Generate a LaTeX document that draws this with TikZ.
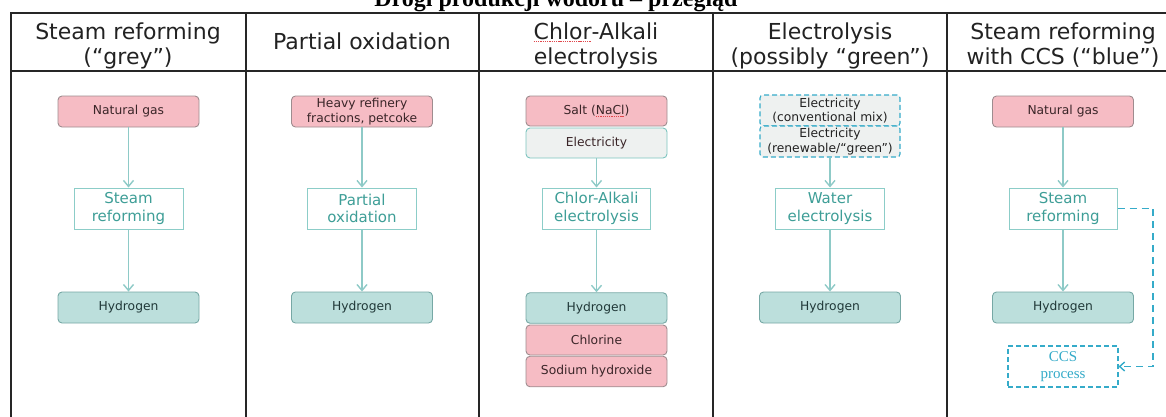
\documentclass[tikz,border=0pt]{standalone}
\usepackage{fontspec}
\setmainfont{DejaVu Sans}
\newfontfamily\titleserif{Liberation Serif}
\usetikzlibrary{arrows.meta}

% palette
\definecolor{rulec}{HTML}{262626}
\definecolor{headtext}{HTML}{222222}
\definecolor{pinkfill}{HTML}{F6BCC4}
\definecolor{pinkdraw}{HTML}{9E8C8F}
\definecolor{pinktext}{HTML}{3A2528}
\definecolor{tealfill}{HTML}{BCDFDC}
\definecolor{tealdraw}{HTML}{76A8A5}
\definecolor{tealtext}{HTML}{203838}
\definecolor{procdraw}{HTML}{8CCDC8}
\definecolor{proctext}{HTML}{3E9E97}
\definecolor{arrowc}{HTML}{8ECAC7}
\definecolor{elecfill}{HTML}{EEF1F0}
\definecolor{elecdraw}{HTML}{7CC4BF}
\definecolor{ccsblue}{HTML}{35ABC9}
\definecolor{spellred}{HTML}{E0474C}

% fonts
\newcommand\colheadfont{\fontsize{22}{24.5}\selectfont}
\newcommand\smallboxfont{\fontsize{12.3}{14.6}\selectfont}
\newcommand\procboxfont{\fontsize{15}{17.6}\selectfont}

% red spelling mark under a word
\newsavebox\spellword
\newcommand\spellmark[1]{\sbox\spellword{#1}%
  \rlap{\textcolor{spellred}{\raisebox{-2.6pt}{\hbox to \wd\spellword{\xleaders\hbox{\rule{1.3pt}{0.8pt}\kern0.9pt}\hfill}}}}%
  \usebox\spellword}

\tikzset{
  colhead/.style={anchor=north, inner sep=0pt, align=center, text=headtext, font=\colheadfont},
  feedbox/.style={rectangle, rounded corners=4pt, draw=pinkdraw, fill=pinkfill, line width=0.9pt,
    minimum width=141pt, minimum height=31pt, inner sep=0pt, align=center, text=pinktext, font=\smallboxfont},
  h2box/.style={feedbox, draw=tealdraw, fill=tealfill, text=tealtext},
  powerbox/.style={feedbox, draw=elecdraw, fill=elecfill, text=pinktext},
  greenpower/.style={feedbox, rounded corners=3pt, draw=ccsblue, fill=elecfill, dash pattern=on 5pt off 3pt,
    line width=1.1pt, minimum width=140pt, text=headtext},
  procbox/.style={rectangle, draw=procdraw, fill=white, line width=1pt, minimum width=109pt,
    minimum height=41pt, inner sep=0pt, align=center, text=proctext, font=\procboxfont},
  ccsbox/.style={procbox, draw=ccsblue, dash pattern=on 5pt off 3pt, line width=1.2pt, minimum width=110pt,
    text=ccsblue, font={\titleserif\fontsize{15}{17.6}\selectfont}},
  flow/.style={draw=arrowc, line width=1.4pt, -{Straight Barb[length=6pt,width=10pt,line width=1.4pt]}},
  ccsflow/.style={draw=ccsblue, line width=1.4pt, dash pattern=on 7pt off 5pt,
    -{Straight Barb[length=5pt,width=9pt,line width=1.4pt]}},
}

\begin{document}
\begin{tikzpicture}[x=1pt, y=-1pt]
\useasboundingbox (0,0) rectangle (1166,416);

% title, its upper part runs off the top edge
\node[anchor=base, inner sep=0pt, font={\titleserif\bfseries\fontsize{24}{28}\selectfont}] (title)
  at (556,6.5) {Drogi produkcji wodoru – przegląd};

% table rules
\draw[rulec, line width=2pt] (11,13.3) -- (1190,13.3);
\draw[rulec, line width=2pt] (11,71) -- (1190,71);
\foreach \xx in {11,245.5,479,713,946.5}
  \draw[rulec, line width=2pt] (\xx,12.3) -- (\xx,430);

% column headings
\node[colhead] (head1) at (128,22.2) {\strut Steam reforming\\\strut(“grey”)};
\node[colhead] (head2) at (362,32.3) {\strut Partial oxidation};
\node[colhead] (head3) at (596,22.2) {\strut\spellmark{Chlor}-Alkali\\\strut electrolysis};
\node[colhead] (head4) at (830,22.2) {\strut Electrolysis\\\strut(possibly “green”)};
\node[colhead] (head5) at (1063,22.2) {\strut Steam reforming\\\strut with CCS (“blue”)};

% grey: steam reforming
\node[feedbox] (gas1) at (128.5,111.5) {Natural gas};
\node[procbox] (smr1) at (128.5,208.5) {Steam\\reforming};
\node[h2box] (hyd1) at (128.5,307.5) {Hydrogen};
\draw[flow] (gas1) -- (smr1);
\draw[flow] (smr1) -- (hyd1);

% partial oxidation
\node[feedbox] (oil2) at (362,111.5) {Heavy refinery\\fractions, petcoke};
\node[procbox] (pox2) at (362,208.5) {Partial\\oxidation};
\node[h2box] (hyd2) at (362,307.5) {Hydrogen};
\draw[flow] (oil2) -- (pox2);
\draw[flow] (pox2) -- (hyd2);

% chlor-alkali electrolysis
\node[feedbox, minimum height=30pt] (salt3) at (596.5,111) {Salt (\spellmark{NaCl})};
\node[powerbox, minimum height=30pt] (pow3) at (596.5,143) {Electricity};
\node[procbox, minimum width=108pt] (cae3) at (596.5,208.5) {Chlor-Alkali\\electrolysis};
\node[h2box, minimum height=30.5pt] (hyd3) at (596.5,308) {Hydrogen};
\node[feedbox, minimum height=30pt] (chl3) at (596.5,340) {Chlorine};
\node[feedbox, minimum height=30.5pt] (naoh3) at (596.5,371.5) {Sodium hydroxide};
\draw[flow] (pow3) -- (cae3);
\draw[flow] (cae3) -- (hyd3);

% electrolysis, possibly green
\node[greenpower] (mix4) at (830,110.5) {Electricity\\(conventional mix)};
\node[greenpower] (ren4) at (830,141.5) {Electricity\\(renewable/“green”)};
\node[procbox] (wel4) at (830,208.5) {Water\\electrolysis};
\node[h2box] (hyd4) at (830,307.5) {Hydrogen};
\draw[flow] (ren4) -- (wel4);
\draw[flow] (wel4) -- (hyd4);

% blue: steam reforming with CCS
\node[feedbox] (gas5) at (1063,111.5) {Natural gas};
\node[procbox, minimum width=108pt] (smr5) at (1063,208.5) {Steam\\reforming};
\node[h2box] (hyd5) at (1063,307.5) {Hydrogen};
\node[ccsbox] (ccs5) at (1063,366.5) {CCS\\process};
\draw[flow] (gas5) -- (smr5);
\draw[flow] (smr5) -- (hyd5);
\coordinate (loop5) at (1153,208.5);
\draw[ccsflow] (smr5.east) -- (loop5) |- (ccs5.east);
\end{tikzpicture}
\end{document}
